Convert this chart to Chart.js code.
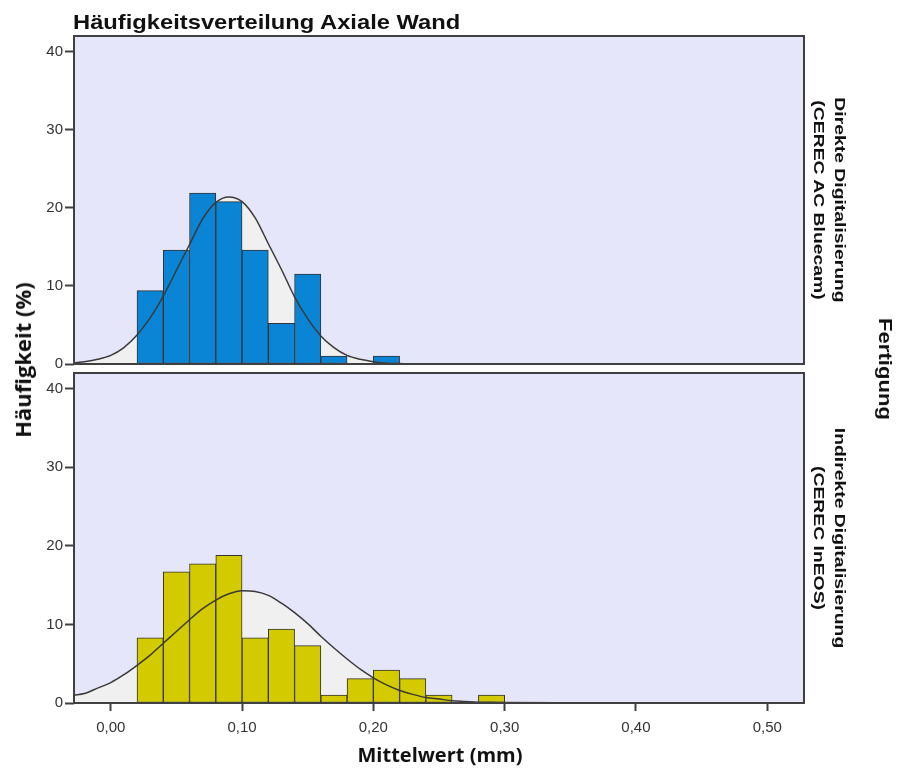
<!DOCTYPE html>
<html>
<head>
<meta charset="utf-8">
<script src="https://cdn.jsdelivr.net/npm/chart.js@4.4.1/dist/chart.umd.min.js"></script>
<style>
  body { margin: 0; background: #fff; }
  #wrap { position: relative; width: 897px; height: 774px; overflow: hidden; }
  canvas { position: absolute; left: 0; }
  .lbl { position: absolute; white-space: nowrap; color: #111; }
  #title { left: 73px; top: 11px; font: bold 21px 'Liberation Sans', Arial, sans-serif; line-height: 21px;
           transform: scaleX(1.13); transform-origin: left center; }
  #xTitle { left: 440px; top: 755px; font: bold 20px 'Open Sans', sans-serif; line-height: 20px;
            transform: translate(-50%, -50%); }
  #yTitle { left: 22px; top: 360px; font: bold 22px 'Open Sans', sans-serif; line-height: 22px;
            transform: translate(-50%, -50%) rotate(-90deg); }
  .facet { font: bold 15px 'Liberation Sans', Arial, sans-serif; line-height: 21px; text-align: center;
           transform: translate(-50%, -50%) rotate(90deg) scaleX(1.29); }
  #facetTop { left: 830px; top: 200px; }
  #facetBottom { left: 830px; top: 538px; }
  #fertigung { left: 885px; top: 369px; font: bold 18px 'Liberation Sans', Arial, sans-serif; line-height: 18px;
               transform: translate(-50%, -50%) rotate(90deg) scaleX(1.23); }
</style>
</head>
<body>
<div id="wrap">
  <canvas id="topChart" width="897" height="380" style="top:0"></canvas>
  <canvas id="bottomChart" width="897" height="415" style="top:359px"></canvas>
  <div class="lbl" id="title">Häufigkeitsverteilung Axiale Wand</div>
  <div class="lbl" id="xTitle">Mittelwert (mm)</div>
  <div class="lbl" id="yTitle">Häufigkeit (%)</div>
  <div class="lbl facet" id="facetTop">Direkte Digitalisierung<br>(CEREC AC Bluecam)</div>
  <div class="lbl facet" id="facetBottom">Indirekte Digitalisierung<br>(CEREC InEOS)</div>
  <div class="lbl" id="fertigung">Fertigung</div>
</div>
<script>
// histogram bins (width 0,02 mm), centres
const binCenters = [0.03, 0.05, 0.07, 0.09, 0.11, 0.13, 0.15, 0.17, 0.19, 0.21, 0.23, 0.25, 0.27, 0.29];

// percentages per bin
const direktPct = [9.4, 14.6, 21.9, 20.8, 14.6, 5.2, 11.5, 1.0, 0, 1.0];
const indirektPct = [8.3, 16.7, 17.7, 18.8, 8.3, 9.4, 7.3, 1.0, 3.1, 4.2, 3.1, 1.0, 0, 1.0];

// normal curves at these x positions
const curveX = [-0.028, -0.02, -0.01, 0.00, 0.01, 0.02, 0.03, 0.04, 0.05, 0.06, 0.07, 0.08, 0.09,
  0.10, 0.11, 0.12, 0.13, 0.14, 0.15, 0.16, 0.17, 0.18, 0.19, 0.20, 0.21, 0.22, 0.23, 0.24,
  0.25, 0.26, 0.27, 0.28, 0.29, 0.30, 0.40, 0.528];
const direktCurve = [0.15, 0.3, 0.6, 1.1, 2.1, 3.7, 5.9, 8.7, 12.0, 15.3, 18.6, 20.7, 21.4,
  20.8, 18.7, 15.4, 12.1, 8.6, 5.8, 3.6, 2.1, 1.1, 0.6, 0.3, 0.1, 0.05, 0, 0,
  0, 0, 0, 0, 0, 0, 0, 0];
const indirektCurve = [1.0, 1.2, 1.9, 2.6, 3.6, 4.8, 6.1, 7.6, 9.1, 10.6, 12.0, 13.1, 13.9,
  14.3, 14.2, 13.7, 12.7, 11.5, 10.1, 8.5, 7.0, 5.6, 4.3, 3.2, 2.3, 1.6, 1.1, 0.7,
  0.5, 0.3, 0.2, 0.1, 0.1, 0.05, 0, 0];

const xTickValues = [0, 0.1, 0.2, 0.3, 0.4, 0.5];
const xTickLabels = ['0,00', '0,10', '0,20', '0,30', '0,40', '0,50'];
const yTickValues = [0, 10, 20, 30, 40];

const toPoints = (xs, ys) => ys.map((y, i) => ({ x: xs[i], y: y }));

const panelFrame = {
  id: 'panelFrame',
  beforeDraw(chart) {
    const a = chart.chartArea;
    const ctx = chart.ctx;
    ctx.save();
    ctx.fillStyle = '#E6E6FA';
    ctx.fillRect(a.left, a.top, a.right - a.left, a.bottom - a.top);
    ctx.restore();
  },
  afterDraw(chart) {
    const a = chart.chartArea;
    const ctx = chart.ctx;
    ctx.save();
    ctx.strokeStyle = '#404040';
    ctx.lineWidth = 2;
    ctx.strokeRect(a.left, a.top, a.right - a.left, a.bottom - a.top);
    ctx.restore();
  }
};

function makePanel(id, pct, curve, color, showX, padding) {
  return new Chart(document.getElementById(id), {
    type: 'bar',
    data: {
      datasets: [
        {
          type: 'line',
          data: toPoints(curveX, curve),
          borderWidth: 0,
          borderColor: 'rgba(0,0,0,0)',
          backgroundColor: '#F0F0F0',
          fill: 'origin',
          pointRadius: 0,
          cubicInterpolationMode: 'monotone',
          order: 2
        },
        {
          data: toPoints(binCenters, pct),
          backgroundColor: color,
          borderColor: '#333333',
          borderWidth: 1,
          borderSkipped: false,
          barPercentage: 1,
          categoryPercentage: 1,
          order: 1
        },
        {
          type: 'line',
          data: toPoints(curveX, curve),
          borderWidth: 1.5,
          borderColor: '#3a3a3a',
          fill: false,
          pointRadius: 0,
          cubicInterpolationMode: 'monotone',
          order: 0
        }
      ]
    },
    options: {
      responsive: false,
      animation: false,
      layout: { padding: padding },
      plugins: { legend: { display: false }, tooltip: { enabled: false } },
      scales: {
        x: {
          type: 'linear',
          min: -0.028,
          max: 0.528,
          offset: false,
          display: showX,
          border: { display: false },
          grid: { offset: false, drawOnChartArea: false, tickLength: 8, tickColor: '#404040', tickWidth: 2 },
          afterBuildTicks: (s) => { s.ticks = xTickValues.map(v => ({ value: v })); },
          afterFit: (s) => { s.height = showX ? 40 : 0; },
          ticks: {
            color: '#333',
            padding: 8,
            maxRotation: 0,
            font: { family: "'Liberation Sans', Arial, sans-serif", size: 15 },
            callback: (v, i) => xTickLabels[i]
          }
        },
        y: {
          min: 0,
          max: 42,
          border: { display: false },
          grid: { drawOnChartArea: false, tickLength: 9, tickColor: '#404040', tickWidth: 2 },
          afterBuildTicks: (s) => { s.ticks = yTickValues.map(v => ({ value: v })); },
          afterFit: (s) => { s.width = 60; },
          ticks: {
            color: '#333',
            padding: 2,
            font: { family: "'Liberation Sans', Arial, sans-serif", size: 15 }
          }
        }
      }
    },
    plugins: [panelFrame]
  });
}

makePanel('topChart', direktPct, direktCurve, '#0A85D5', false,
  { left: 14, right: 93, top: 36, bottom: 16 });
makePanel('bottomChart', indirektPct, indirektCurve, '#D3CB00', true,
  { left: 14, right: 93, top: 14, bottom: 31 });
</script>
</body>
</html>
